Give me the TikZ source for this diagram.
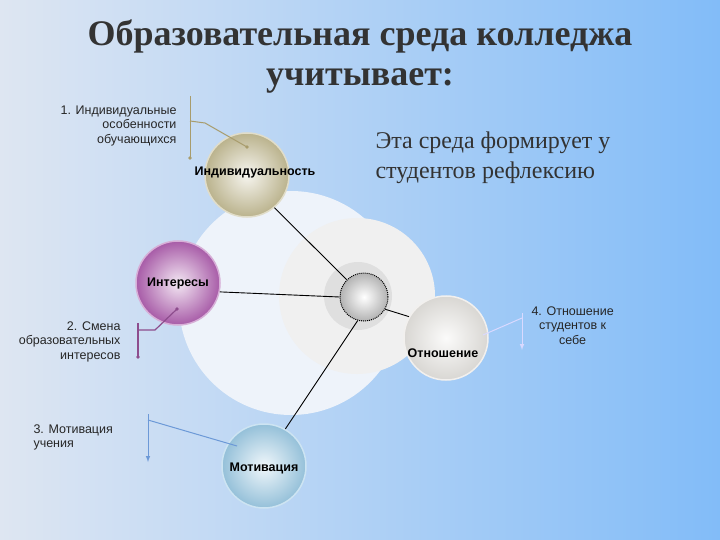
\documentclass[tikz,border=0pt]{standalone}
\usepackage{fontspec}
\setmainfont{Liberation Sans}
\newfontfamily\serifc{Liberation Serif}
\begin{document}
\begin{tikzpicture}[x=1pt,y=-1pt,
 lbl/.style={font=\fontsize{12.5}{14.5}\selectfont,text=black!85,align=right},
 sph/.style={circle,minimum size=84pt,inner sep=0pt,draw=#1!50!white,line width=1.5pt,shading=radial,inner color=#1!15!white,outer color=#1!95!black},
 blab/.style={font=\bfseries\fontsize{12.5}{14}\selectfont,text=black},
 dotend/.style={fill=#1,circle,inner sep=1.6pt}]
\useasboundingbox (0,0) rectangle (720,540);
\definecolor{khaki}{HTML}{C4BC94}
\definecolor{purp}{HTML}{B060B0}
\definecolor{lblue}{HTML}{9CCAE4}
\definecolor{whit}{HTML}{E4E2DE}
\definecolor{tan}{HTML}{A89C6C}
\definecolor{bigc}{HTML}{EEF3FA}
\shade[left color={rgb,255:red,222;green,230;blue,242},right color={rgb,255:red,130;green,188;blue,248}] (0,0) rectangle (720,540);
\fill[bigc] (291,303) circle (112);
\fill[gray!12] (357,296) circle (78);
\fill[gray!25] (358,296) circle (34);
\node[circle,minimum size=48pt,inner sep=0pt,shading=radial,inner color=white,outer color=gray!60,draw=black,densely dotted,line width=1pt] (c) at (364,297) {};
\node[sph=khaki] (ind) at (247,175) {};
\node[sph=purp] (int) at (178,283) {};
\node[sph=whit] (otn) at (446,338) {};
\node[sph=lblue] (mot) at (264,466) {};
\node[blab] at (255,172) {Индивидуальность};
\node[blab] at (178,283) {Интересы};
\node[blab] at (443,353) {Отношение};
\node[blab] at (264,468) {Мотивация};
\draw[black,line width=0.9pt] (ind.-50) -- (c.135);
\draw[black,line width=0.9pt] (int.-12) -- (c.180);
\draw[black,line width=0.9pt] (mot.60) -- (c.-105);
\draw[black,line width=0.9pt] (c.-30) -- (otn.150);
% callouts
\node[lbl,anchor=north east] (t1) at (180,102) {1. Индивидуальные\\особенности\\обучающихся};
\draw[tan,line width=1pt] (190,96) -- (190,158) node[dotend=tan,inner sep=1.3pt]{};
\draw[tan,line width=1pt] (190,121) -- (205,123) -- (247,147) node[dotend=tan,inner sep=1.3pt]{};
\node[lbl,anchor=north east] (t2) at (124,318) {2. Смена\\образовательных\\интересов};
\draw[purp!80!black,line width=1.2pt] (138,323) -- (138,357) node[dotend=purp!80!black,inner sep=1.3pt]{};
\draw[purp!80!black,line width=1.2pt] (138,330) -- (155,330) -- (177,309) node[dotend=purp!80!black,inner sep=1.3pt]{};
\node[lbl,anchor=north west,align=left] (t3) at (30,421) {3. Мотивация\\учения};
\draw[cyan!50!blue!60,line width=1pt,-latex] (148,414) -- (148,462);
\draw[cyan!50!blue!60,line width=1pt] (148,420) -- (237,446);
\node[lbl,anchor=north west,align=center] (t4) at (528,303) {4. Отношение\\студентов к\\себе};
\draw[white!85!blue,line width=1pt,-latex] (522,313) -- (522,350);
\draw[white!85!blue,line width=1pt] (483,335) -- (522,318);
% titles
\node[font=\serifc\bfseries\fontsize{36}{40}\selectfont,text=black!80,align=center] (title) at (360,57) {Образовательная среда колледжа\\учитывает:};
\node[font=\serifc\fontsize{24}{30}\selectfont,text=black!80,align=left,anchor=north west] (rt) at (372,128) {Эта среда формирует у\\студентов рефлексию};
\end{tikzpicture}
\end{document}
